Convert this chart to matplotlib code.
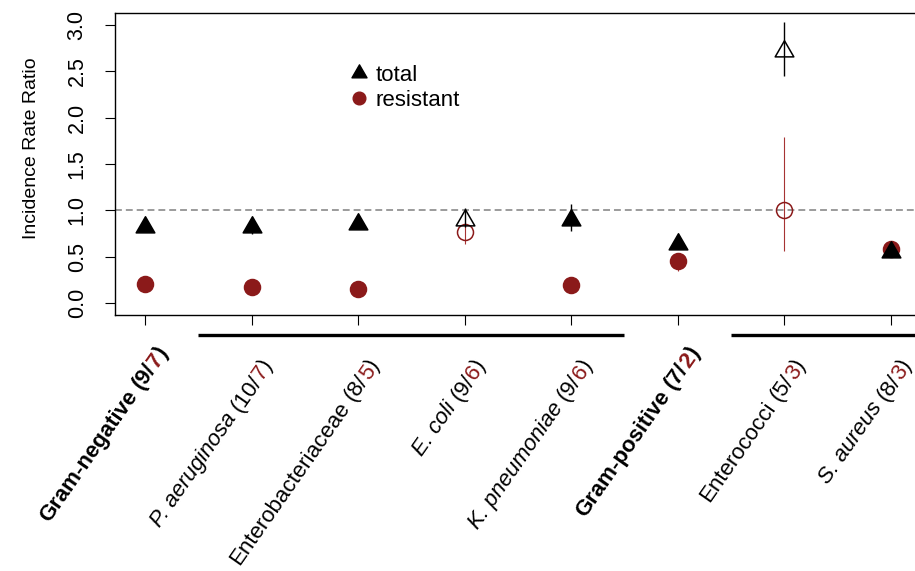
import numpy as np
import matplotlib
matplotlib.use('Agg')
import matplotlib.pyplot as plt
from matplotlib.lines import Line2D
from matplotlib.path import Path
from matplotlib.transforms import blended_transform_factory

plt.rcParams['font.family'] = ['Liberation Sans', 'DejaVu Sans']

# categories and counts (studies total / resistant)
names = ['Gram-negative', 'P. aeruginosa', 'Enterobacteriaceae', 'E. coli',
         'K. pneumoniae', 'Gram-positive', 'Enterococci', 'S. aureus']
n_total = [9, 10, 8, 9, 9, 7, 5, 8]
n_resistant = [7, 7, 5, 6, 6, 2, 3, 3]
italic = [False, True, False, True, True, False, False, True]
bold = [True, False, False, False, False, True, False, False]

# incidence rate ratios with confidence intervals
irr_total = [0.82, 0.82, 0.85, 0.90, 0.90, 0.64, 2.72, 0.55]
total_lo = [0.78, 0.75, 0.81, 0.82, 0.78, 0.58, 2.45, 0.50]
total_hi = [0.86, 0.90, 0.89, 1.03, 1.07, 0.71, 3.03, 0.61]
total_filled = [True, True, True, False, True, True, False, True]

irr_resistant = [0.21, 0.18, 0.15, 0.77, 0.20, 0.46, 1.00, 0.58]
res_lo = [0.17, 0.14, 0.11, 0.64, 0.16, 0.35, 0.56, 0.52]
res_hi = [0.25, 0.22, 0.19, 0.86, 0.24, 0.54, 1.79, 0.64]
res_filled = [True, True, True, False, True, True, False, True]

# subgroups underlined below the axis (1-based positions)
groups = [[2, 3, 4, 5], [7, 8]]

red = '#8B1A1A'
tri = Path([(0, 1), (-0.866, -0.5), (0.866, -0.5), (0, 1)], closed=True)
pos = np.arange(1, len(names) + 1)

fig = plt.figure(figsize=(9.15, 5.71), dpi=100)
ax = fig.add_axes([115 / 915, 256 / 571, 813 / 915, 302 / 571])
ax.set_xlim(0.718, 8.352)
ax.set_ylim(-0.126, 3.128)

ax.axhline(1, color='#808080', lw=1.1, ls=(0, (4.5, 2.6)), zorder=1)

# resistant first, so the total triangles sit on top
ax.vlines(pos, res_lo, res_hi, color='#A63333', lw=0.8, zorder=2)
for x, y, f in zip(pos, irr_resistant, res_filled):
    ax.plot(x, y, 'o', ms=11.5, mec=red, mfc=red if f else 'none',
            mew=1.1, zorder=3)
ax.vlines(pos, total_lo, total_hi, color='black', lw=1.0, zorder=4)
for x, y, f in zip(pos, irr_total, total_filled):
    ax.plot(x, y, marker=tri, ms=15.5, mec='black',
            mfc='black' if f else 'none', mew=1.1, ls='none', zorder=5)

ax.spines['right'].set_visible(False)
for sp in ['left', 'top', 'bottom']:
    ax.spines[sp].set_linewidth(1.0)

ax.set_yticks(np.arange(0, 3.01, 0.5))
ax.set_yticklabels(['%.1f' % v for v in np.arange(0, 3.01, 0.5)],
                   rotation=90, va='center')
ax.tick_params(axis='y', direction='out', length=7.2, width=0.8,
               labelsize=15.5, pad=12.5)
ax.set_xticks(pos)
ax.set_xticklabels([])
ax.tick_params(axis='x', direction='out', length=7.2, width=0.8)

ax.set_ylabel('Incidence Rate Ratio', fontsize=14)
ax.yaxis.set_label_coords(-75 / 813, 0.553)

trans = blended_transform_factory(ax.transData, ax.transAxes)
for g in groups:
    ax.plot([min(g) - 0.5, max(g) + 0.5], [-0.066, -0.066], color='black',
            lw=2.4, transform=trans, clip_on=False, solid_capstyle='butt')

# legend
handles = [Line2D([], [], marker=tri, ls='none', ms=12.5, color='black'),
           Line2D([], [], marker='o', ls='none', ms=9.1, color=red)]
ax.legend(handles, ['total', 'resistant'], loc='center left',
          bbox_to_anchor=(0.2866, 0.752), frameon=False, fontsize=16,
          handlelength=1.0, handletextpad=0.23, labelspacing=0.15,
          borderpad=0, borderaxespad=0)

# rotated multi-colour category labels
renderer = fig.canvas.get_renderer()
fs = 16


def text_w(s, sty, wt):
    t = fig.text(0, 0, s, fontsize=fs, fontstyle=sty, fontweight=wt)
    w = t.get_window_extent(renderer).width
    t.remove()
    return w


ang = 55
c, s = np.cos(np.radians(ang)), np.sin(np.radians(ang))
for i, x in enumerate(pos):
    wt = 'bold' if bold[i] else 'normal'
    st = 'italic' if italic[i] else 'normal'
    space = text_w('i i', 'normal', wt) - text_w('ii', 'normal', wt)
    pieces = [(names[i], st, 'black'),
              (' (%d/' % n_total[i], 'normal', 'black'),
              (str(n_resistant[i]), 'normal', red),
              (')', 'normal', 'black')]
    widths = []
    for txt, sty, col in pieces:
        w = text_w(txt.strip(), sty, wt)
        if txt.startswith(' '):
            w += space
        widths.append(w)
    L = sum(widths)
    ex, ey = (23, -38) if bold[i] else (22, -50)
    sx, sy = ex - L * c, ey - L * s
    cum = 0
    for (txt, sty, col), w in zip(pieces, widths):
        ox = sx + cum * c
        oy = sy + cum * s
        if txt.startswith(' '):
            ox += space * c
            oy += space * s
        ax.annotate(txt.strip(), xy=(x, 0), xycoords=trans,
                    xytext=(ox * 0.72, oy * 0.72), textcoords='offset points',
                    rotation=ang, rotation_mode='anchor', ha='left',
                    va='baseline', fontsize=fs, fontstyle=sty, fontweight=wt,
                    color=col, annotation_clip=False)
        cum += w

fig.savefig('out.png', dpi=100)
